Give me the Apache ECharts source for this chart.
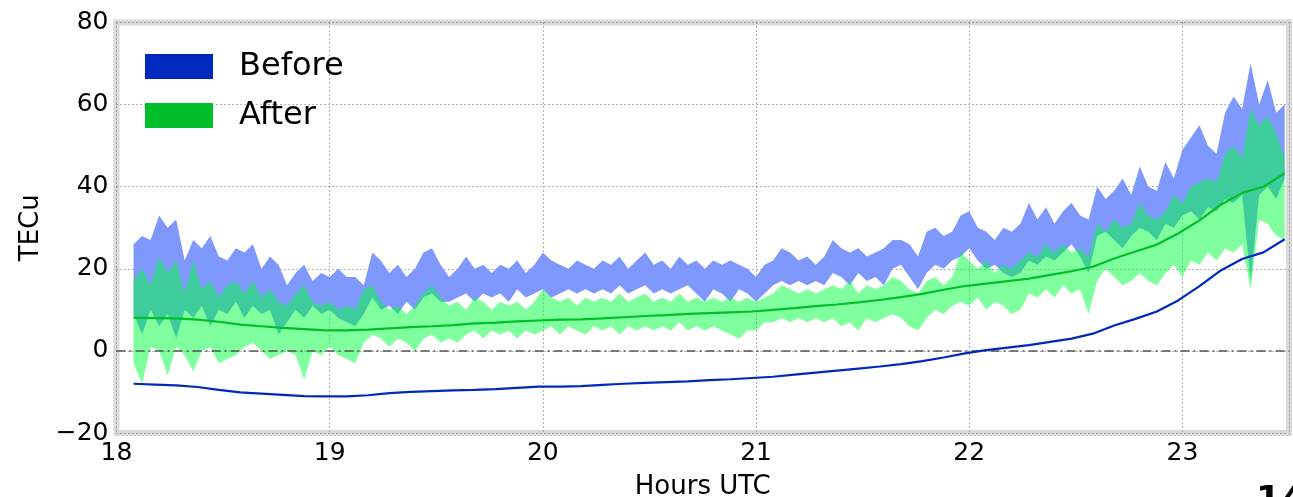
<!DOCTYPE html>
<html><head><meta charset="utf-8">
<script src="https://cdn.jsdelivr.net/npm/echarts@6/dist/echarts.min.js"></script>
<style>html,body{margin:0;padding:0;background:#fff;overflow:hidden}#c{width:1293px;height:497px}</style>
</head><body><div id="c"></div>
<script>
// ---- noisy samples: upper / lower envelope, every 0.04 h starting 18.08 h ----
const noisyStart = 18.08, noisyStep = 0.04;
const beforeHigh = [26,28,27,33,30,32,22,27,25,28,23,22,25,24,26,20,23,21,16,19,21,17,19,18,20,18,
  18,16,24,22,19,21,18,20,24,25,21,18,20,23,20,21,19,21,20,22,19,21,24,22,21,20,22,21,20,
  22,21,23,20,22,24,21,22,20,23,21,22,20,22,21,22,21,20,18,21,22,25,24,22,23,21,23,
  27,25,24,25,23,24,25,27,27,26,23,29,30,28,29,33,34,30,29,27,30,29,31,36,32,35,31,
  34,36,33,32,40,37,39,42,38,45,40,39,46,42,49,52,55,50,48,58,62,59,70,60,66,58,60];
const beforeLow = [9,4,10,6,9,3,10,8,11,6,10,9,12,8,11,9,10,4,7,10,8,11,9,10,8,7,
  6,9,13,10,11,9,12,10,13,14,12,12,13,14,12,14,13,14,12,15,13,14,15,13,14,15,14,15,14,
  15,14,16,14,15,16,14,15,14,15,16,14,12,15,14,12,15,14,12,14,16,17,16,17,16,17,16,
  19,18,16,19,17,18,16,20,21,18,15,19,21,20,22,23,25,22,20,21,19,18,19,22,21,23,22,
  24,26,23,19,28,29,27,25,28,30,29,27,31,30,33,34,32,35,34,37,36,38,17,38,40,37,42];
const afterHigh = [17,20,16,23,19,22,14,22,15,17,13,16,17,14,17,13,15,12,11,14,16,12,11,12,10,11,
  10,15,16,12,10,11,9,11,14,16,13,11,12,10,13,12,10,12,11,12,10,12,15,13,12,13,11,13,12,
  13,12,14,12,13,14,12,13,12,14,12,13,12,13,12,13,12,13,12,13,14,16,15,14,15,14,15,
  16,15,17,14,16,15,16,18,17,15,14,17,18,16,18,24,22,20,22,19,21,20,22,24,23,26,24,
  26,24,25,23,31,29,32,30,31,36,33,32,34,38,36,40,41,42,41,48,50,47,59,55,57,53,47];
const afterLow = [-3,-8,1,0,-6,1,-1,-5,0,1,-3,-2,-1,1,2,0,-2,-1,0,-1,-7,0,-1,1,-1,-2,
  -3,2,4,3,1,3,2,0,3,4,2,3,2,4,5,3,5,4,5,3,5,4,5,6,4,6,5,4,6,
  5,6,4,6,5,6,5,6,5,7,5,6,5,6,5,4,3,5,5,7,7,8,7,8,7,8,7,
  8,6,7,5,8,7,8,9,8,6,5,8,10,9,11,12,11,13,10,12,11,9,10,14,13,15,13,
  16,14,15,9,17,20,18,16,17,19,17,16,19,21,18,22,21,24,22,25,24,26,15,32,31,28,27];

// ---- smoothed curves, every 0.1 h starting 18.08 h ----
const smoothStart = 18.08, smoothStep = 0.1;
const beforeSmooth = [-8.0,-8.2,-8.4,-8.8,-9.5,-10.1,-10.4,-10.7,-11.0,-11.1,
  -11.1,-10.8,-10.3,-10.0,-9.8,-9.6,-9.5,-9.3,-9.0,-8.7,
  -8.7,-8.6,-8.3,-8.0,-7.8,-7.6,-7.4,-7.1,-6.9,-6.6,
  -6.3,-5.8,-5.3,-4.8,-4.3,-3.8,-3.2,-2.5,-1.6,-0.6,
  0.2,0.8,1.4,2.2,3.0,4.2,6.2,7.8,9.6,12.3,
  15.8,19.6,22.4,24.0,27.2];
const afterSmooth = [8.1,8.0,7.9,7.6,7.1,6.4,6.0,5.6,5.3,5.0,
  5.0,5.2,5.5,5.8,6.0,6.3,6.7,6.9,7.2,7.4,
  7.6,7.7,7.9,8.2,8.5,8.7,9.0,9.2,9.4,9.6,
  10.0,10.4,10.9,11.3,11.8,12.4,13.1,13.9,14.9,15.8,
  16.4,17.0,17.6,18.5,19.4,20.5,22.5,24.2,25.9,28.6,
  31.8,35.6,38.5,40.0,43.3];

const xTicks = [18,19,20,21,22,23];
const yTicks = [-20,0,20,40,60,80];
const legendNames = ['Before','After'];

const noisyHours = beforeHigh.map((_, i) => +(noisyStart + i * noisyStep).toFixed(2));
const smoothHours = beforeSmooth.map((_, i) => +(smoothStart + i * smoothStep).toFixed(2));

const FONT = 'DejaVu Sans';
const C_BEFORE = '#0028be', C_AFTER = '#00bf2a';

function bandSeries(lo, hi, fill, z) {
  return {
    type: 'custom', z: z, silent: true, clip: true,
    data: [[noisyHours[0], lo[0]]],
    renderItem: function (params, api) {
      const pts = [];
      for (let i = 0; i < noisyHours.length; i++) pts.push(api.coord([noisyHours[i], hi[i]]));
      for (let i = noisyHours.length - 1; i >= 0; i--) pts.push(api.coord([noisyHours[i], lo[i]]));
      return { type: 'polygon', shape: { points: pts }, style: { fill: fill } };
    }
  };
}

const chart = echarts.init(document.getElementById('c'), null, { renderer: 'canvas', width: 1293, height: 497 });
chart.setOption({
  animation: false,
  backgroundColor: '#fff',
  grid: { left: 116.5, right: 4, top: 22.5, bottom: 64, outerBoundsMode: 'none', containLabel: false,
    show: true, borderColor: '#d9d9d9', borderWidth: 6, backgroundColor: '#fff' },
  legend: {
    data: legendNames, orient: 'vertical', left: 145, top: 50.5, padding: 0,
    icon: 'rect', itemWidth: 68, itemHeight: 25, itemGap: 17,
    textStyle: { fontFamily: FONT, fontSize: 32, color: '#000', padding: [0, 0, 0, 21] }
  },
  xAxis: {
    type: 'value', min: xTicks[0], max: 23.5, interval: 1,
    name: 'Hours UTC', nameLocation: 'middle', nameGap: 41,
    nameTextStyle: { fontFamily: FONT, fontSize: 26, color: '#000' },
    axisLine: { show: false }, axisTick: { show: false },
    axisLabel: { fontFamily: FONT, fontSize: 25, color: '#000', margin: 8,
      formatter: v => xTicks.indexOf(v) >= 0 ? String(v) : '' },
    splitLine: { show: true, lineStyle: { color: '#666', type: [1, 3], width: 1 } }
  },
  yAxis: {
    type: 'value', min: yTicks[0], max: yTicks[yTicks.length - 1], interval: 20,
    name: 'TECu', nameLocation: 'middle', nameGap: 72, nameRotate: 90,
    nameTextStyle: { fontFamily: FONT, fontSize: 26, color: '#000' },
    axisLine: { show: false }, axisTick: { show: false },
    axisLabel: { fontFamily: FONT, fontSize: 25, color: '#000', margin: 8,
      formatter: v => v < 0 ? '\u2212' + Math.abs(v) : String(v) },
    splitLine: { show: true, lineStyle: { color: '#666', type: [1, 3], width: 1 } }
  },
  graphic: [
    { type: 'text', left: 1256, top: 484, z: 10,
      style: { text: '14', font: 'bold 36px "DejaVu Sans"', fill: '#000' } }
  ],
  series: [
    bandSeries(beforeLow, beforeHigh, '#7e98fd', 2),
    bandSeries(afterLow, afterHigh, 'rgba(0,255,60,0.5)', 3),
    {
      type: 'line', name: 'zero', data: [], z: 4, silent: true,
      markLine: { silent: true, symbol: 'none', label: { show: false },
        lineStyle: { color: '#555', type: [9, 4, 2, 4], width: 1.5 },
        data: [{ yAxis: 0 }] }
    },
    {
      type: 'line', name: legendNames[0], z: 5, symbol: 'none', color: C_BEFORE,
      data: smoothHours.map((h, i) => [h, beforeSmooth[i]]),
      lineStyle: { color: C_BEFORE, width: 2.2 }
    },
    {
      type: 'line', name: legendNames[1], z: 5, symbol: 'none', color: C_AFTER,
      data: smoothHours.map((h, i) => [h, afterSmooth[i]]),
      lineStyle: { color: C_AFTER, width: 2.2 }
    }
  ]
});
</script></body></html>
